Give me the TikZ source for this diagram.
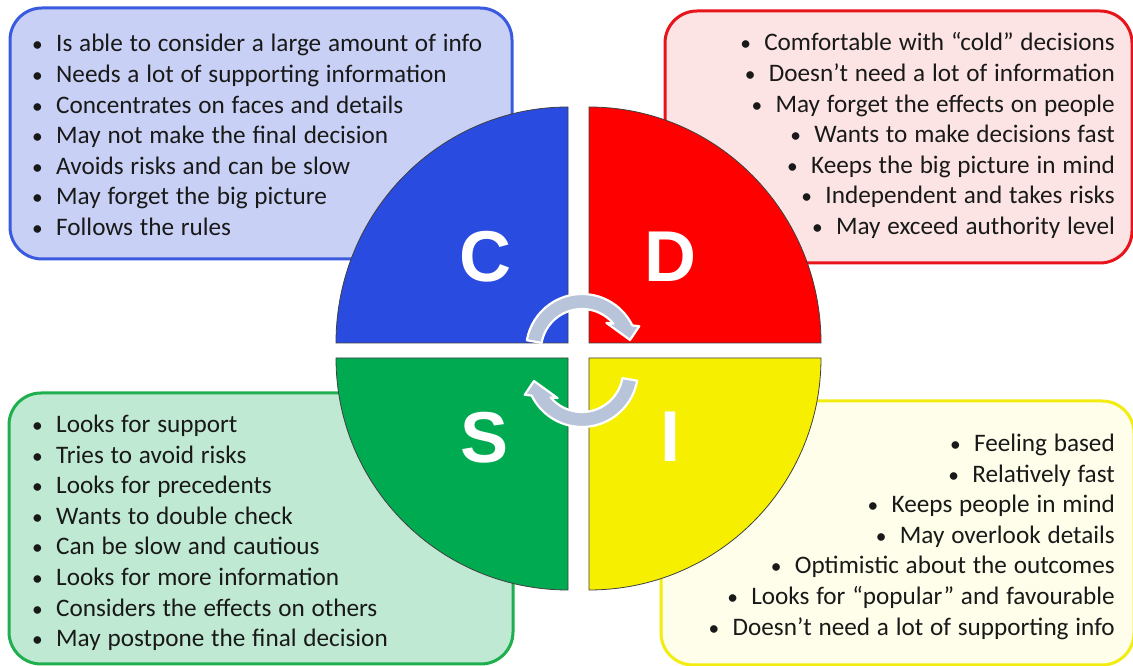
\documentclass[tikz,border=0pt]{standalone}
\usepackage{fontspec}
\setmainfont{Carlito}
\newfontfamily\cdsifont{Liberation Sans}
\definecolor{cboxfill}{HTML}{C9D0F5}
\definecolor{cboxline}{HTML}{3A5BE0}
\definecolor{dboxfill}{HTML}{FDE4E4}
\definecolor{dboxline}{HTML}{E8141C}
\definecolor{sboxfill}{HTML}{BFE9D3}
\definecolor{sboxline}{HTML}{1FAF4F}
\definecolor{iboxfill}{HTML}{FEFEEA}
\definecolor{iboxline}{HTML}{F3EC10}
\definecolor{cquad}{HTML}{2A4BE0}
\definecolor{dquad}{HTML}{FF0000}
\definecolor{squad}{HTML}{00AA50}
\definecolor{iquad}{HTML}{F7EF00}
\definecolor{arrowfill}{HTML}{B8C4DA}
\newcommand\bul{\makebox[25pt][l]{\hspace{1pt}\scalebox{0.85}{•}}}
\newcommand\listfont{\fontsize{25.2}{30.6}\selectfont\spaceskip=0.27em plus 0.1em minus 0.05em\relax}
\begin{document}
\begin{tikzpicture}[x=1pt,y=1pt,
  panel/.style={line width=3pt, rounded corners=32pt},
  quad/.style={draw=black!75, line width=0.8pt},
  letter/.style={text=white, font=\cdsifont\bfseries\fontsize{72}{72}\selectfont, inner sep=0pt},
  listtxt/.style={inner sep=0pt, font=\listfont, text=black!90},
  cyc/.style={fill=arrowfill, draw=white, line width=2.2pt, line join=round}]
\useasboundingbox (0,0) rectangle (1133,666);
\fill[white] (0,0) rectangle (1133,666);
% panels
\draw[panel, draw=cboxline, fill=cboxfill] (10,407) rectangle (512,658);
\draw[panel, draw=dboxline, fill=dboxfill] (665,403) rectangle (1132,655);
\draw[panel, draw=sboxline, fill=sboxfill] (9,2) rectangle (513,273);
\draw[panel, draw=iboxline, fill=iboxfill] (661,1) rectangle (1134,265);
% quadrants
\draw[quad, fill=cquad] (568,323) -- (336,323) arc[start angle=180, end angle=90, x radius=232, y radius=236] -- cycle;
\draw[quad, fill=dquad] (589,323) -- (589,559) arc[start angle=90, end angle=0, x radius=232, y radius=236] -- cycle;
\draw[quad, fill=squad] (568,308) -- (336,308) arc[start angle=180, end angle=270, x radius=232, y radius=232] -- cycle;
\draw[quad, fill=iquad] (589,308) -- (821,308) arc[start angle=0, end angle=-90, x radius=232, y radius=232] -- cycle;
% letters
\node[letter] (lc) at (485,409) {C};
\node[letter] (ld) at (670,409) {D};
\node[letter] (ls) at (485,228) {S};
\node[letter] (li) at (670,229) {I};
% cycle arrows
\begin{scope}[shift={(582,316)}]
\draw[cyc] (170:56) arc[start angle=170, end angle=26, radius=56] -- (57.3,23.8) -- (48,10) -- (24.4,27.1) -- (40:41) arc[start angle=40, end angle=170, radius=41] -- cycle;
\end{scope}
\begin{scope}[shift={(582,295)}, rotate=180]
\draw[cyc] (170:56) arc[start angle=170, end angle=26, radius=56] -- (57.3,23.8) -- (48,10) -- (24.4,27.1) -- (40:41) arc[start angle=40, end angle=170, radius=41] -- cycle;
\end{scope}
% texts
\node[listtxt, anchor=base west] (tc) at (31,614) {\begin{tabular}[t]{@{}l@{}}
\bul Is able to consider a large amount of info\\
\bul Needs a lot of supporting information\\
\bul Concentrates on faces and details\\
\bul May not make the final decision\\
\bul Avoids risks and can be slow\\
\bul May forget the big picture\\
\bul Follows the rules
\end{tabular}};
\node[listtxt, anchor=base east] (td) at (1115,615) {\begin{tabular}[t]{@{}r@{}}
\bul Comfortable with “cold” decisions\\
\bul Doesn’t need a lot of information\\
\bul May forget the effects on people\\
\bul Wants to make decisions fast\\
\bul Keeps the big picture in mind\\
\bul Independent and takes risks\\
\bul May exceed authority level
\end{tabular}};
\node[listtxt, anchor=base west] (ts) at (31,233.5) {\begin{tabular}[t]{@{}l@{}}
\bul Looks for support\\
\bul Tries to avoid risks\\
\bul Looks for precedents\\
\bul Wants to double check\\
\bul Can be slow and cautious\\
\bul Looks for more information\\
\bul Considers the effects on others\\
\bul May postpone the final decision
\end{tabular}};
\node[listtxt, anchor=base east] (ti) at (1115,214.5) {\begin{tabular}[t]{@{}r@{}}
\bul Feeling based\\
\bul Relatively fast\\
\bul Keeps people in mind\\
\bul May overlook details\\
\bul Optimistic about the outcomes\\
\bul Looks for “popular” and favourable\\
\bul Doesn’t need a lot of supporting info
\end{tabular}};
\end{tikzpicture}
\end{document}
